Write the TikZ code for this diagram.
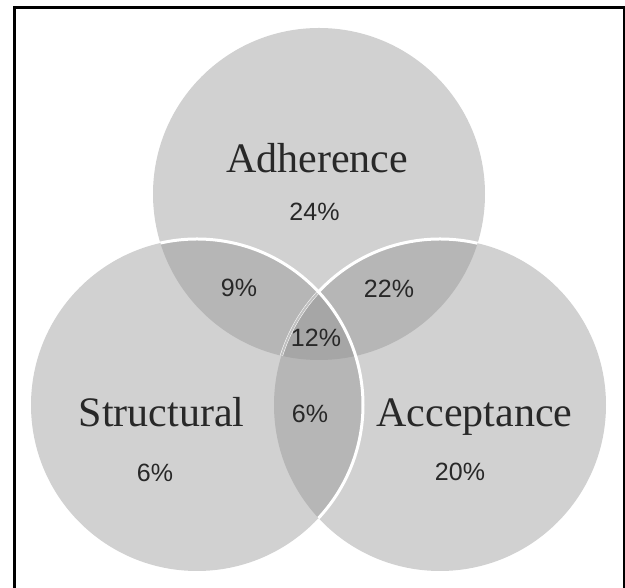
\documentclass[tikz,border=0pt]{standalone}
\usepackage{fontspec}
\setmainfont{Liberation Serif}
\newfontfamily\pctfont{Liberation Sans}
\definecolor{singlegray}{RGB}{209,209,209}
\definecolor{doublegray}{RGB}{182,182,182}
\definecolor{triplegray}{RGB}{166,166,166}
\definecolor{faintline}{RGB}{192,192,192}
\definecolor{txt}{RGB}{40,40,40}
\begin{document}
\begin{tikzpicture}[x=1pt,y=1pt,
  setname/.style={font=\fontsize{42}{42}\selectfont, text=txt, anchor=base, inner sep=0pt},
  pct/.style={font=\pctfont\fontsize{25}{25}\selectfont, text=txt, anchor=base, inner sep=0pt},
  rim/.style={white, line width=3pt},
  frameline/.style={black, line width=3pt}]
\useasboundingbox (0,0) rectangle (625,588);
\def\R{166}
\coordinate (A) at (319,394);
\coordinate (S) at (197,183);
\coordinate (C) at (440,183);
% single regions
\fill[singlegray] (A) circle[radius=\R] (S) circle[radius=\R] (C) circle[radius=\R];
% pairwise overlaps
\begin{scope}
  \clip (A) circle[radius=\R];
  \fill[doublegray] (S) circle[radius=\R] (C) circle[radius=\R];
\end{scope}
\begin{scope}
  \clip (S) circle[radius=\R];
  \fill[doublegray] (C) circle[radius=\R];
\end{scope}
% triple overlap
\begin{scope}
  \clip (A) circle[radius=\R];
  \clip (S) circle[radius=\R];
  \fill[triplegray] (C) circle[radius=\R];
\end{scope}
% Acceptance rim inside Adherence
\begin{scope}
  \clip (A) circle[radius=\R];
  \draw[rim] (C) circle[radius=\R];
\end{scope}
\begin{scope}
  \clip (A) circle[radius=\R];
  \clip (S) circle[radius=\R];
  \draw[faintline, line width=2pt] (C) circle[radius=\R];
\end{scope}
% Structural rim inside Adherence and Acceptance
\begin{scope}
  \clip (A) circle[radius=\R] (C) circle[radius=\R];
  \draw[rim] (S) circle[radius=\R];
\end{scope}
% labels
\node[setname] (tA) at (317,415) {Adherence};
\node[setname] (tS) at (161.5,161) {Structural};
\node[setname] (tC) at (474.5,161) {Acceptance};
\node[pct] (pA) at (314.5,367) {24\%};
\node[pct] (pS) at (155,106) {6\%};
\node[pct] (pC) at (460,107) {20\%};
\node[pct] (pAS) at (239,291) {9\%};
\node[pct] (pAC) at (389,290) {22\%};
\node[pct] (pASC) at (316,241) {12\%};
\node[pct] (pSC) at (310,165) {6\%};
% frame (open at the bottom)
\draw[frameline] (14.5,-3) -- (14.5,580) -- (624,580) -- (624,-3);
\end{tikzpicture}
\end{document}
